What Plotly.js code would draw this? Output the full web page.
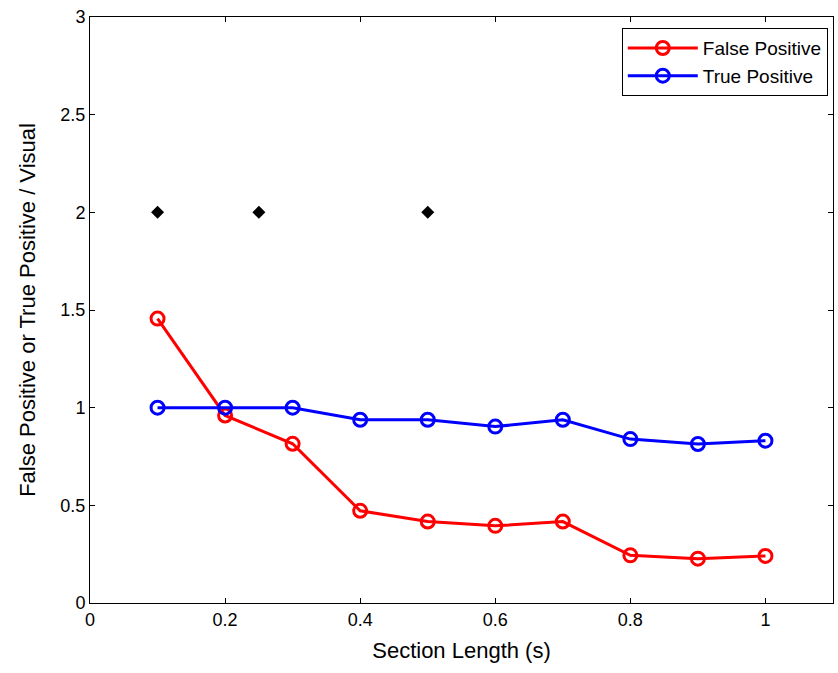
<!DOCTYPE html>
<html>
<head>
<meta charset="utf-8">
<script src="https://cdn.plot.ly/plotly-3.0.1.min.js"></script>
<style>html,body{margin:0;padding:0;background:#fff;}#chart{width:838px;height:673px;}</style>
</head>
<body>
<div id="chart"></div>
<script>
const sectionLength = [0.1, 0.2, 0.3, 0.4, 0.5, 0.6, 0.7, 0.8, 0.9, 1.0];
const falsePositive = [1.456, 0.96, 0.815, 0.472, 0.417, 0.395, 0.417, 0.244, 0.227, 0.241];
const truePositive = [1.0, 1.0, 1.0, 0.938, 0.938, 0.903, 0.938, 0.839, 0.814, 0.831];
const visualX = [0.1, 0.25, 0.5];
const visualY = [2, 2, 2];
const xTicks = [0, 0.2, 0.4, 0.6, 0.8, 1];
const xTickLabels = ['0', '0.2', '0.4', '0.6', '0.8', '1'];
const yTicks = [0, 0.5, 1, 1.5, 2, 2.5, 3];
const yTickLabels = ['0', '0.5', '1', '1.5', '2', '2.5', '3'];

const font = 'Liberation Sans, Arial, sans-serif';
const traces = [
  {x: sectionLength, y: falsePositive, name: 'False Positive', mode: 'lines+markers',
   line: {color: '#ff0000', width: 3},
   marker: {symbol: 'circle-open', size: 13, color: '#ff0000', line: {width: 3, color: '#ff0000'}}},
  {x: sectionLength, y: truePositive, name: 'True Positive', mode: 'lines+markers',
   line: {color: '#0000ff', width: 3},
   marker: {symbol: 'circle-open', size: 13, color: '#0000ff', line: {width: 3, color: '#0000ff'}}},
  {x: visualX, y: visualY, name: 'Visual', mode: 'markers', showlegend: false,
   marker: {symbol: 'diamond', size: 10, color: '#000000'}}
];
const axisCommon = {
  showline: true, linecolor: '#000', linewidth: 1, mirror: 'ticks',
  ticks: 'inside', ticklen: 5, tickcolor: '#000', showgrid: false, zeroline: false,
  tickfont: {family: font, size: 18, color: '#000'}
};
const layout = {
  width: 838, height: 673,
  margin: {l: 90, r: 5, t: 17, b: 70},
  paper_bgcolor: '#fff', plot_bgcolor: '#fff',
  font: {family: font, color: '#000'},
  xaxis: Object.assign({}, axisCommon, {
    range: [0, 1.1], tickvals: xTicks, ticktext: xTickLabels,
    title: {text: 'Section Length (s)', font: {family: font, size: 22, color: '#000'}, standoff: 14}
  }),
  yaxis: Object.assign({}, axisCommon, {
    range: [0, 3], tickvals: yTicks, ticktext: yTickLabels,
    title: {text: 'False Positive or True Positive / Visual', font: {family: font, size: 22, color: '#000'}, standoff: 18}
  }),
  legend: {
    x: 0.993, y: 0.981, xanchor: 'right', yanchor: 'top',
    bgcolor: '#fff', bordercolor: '#000', borderwidth: 1,
    font: {family: font, size: 19, color: '#000'},
    itemwidth: 70, tracegroupgap: 0
  },
  showlegend: true
};
Plotly.newPlot('chart', traces, layout, {displayModeBar: false});
</script>
</body>
</html>
